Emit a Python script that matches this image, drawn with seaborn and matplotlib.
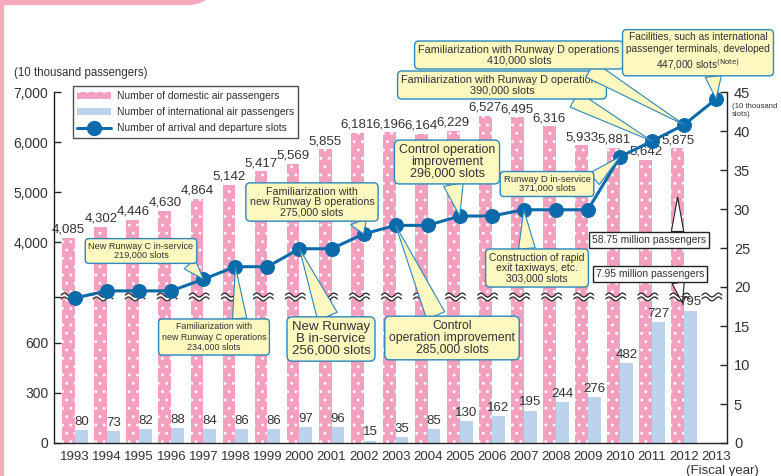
import numpy as np
import pandas as pd
import seaborn as sns
import matplotlib.pyplot as plt
import matplotlib.transforms as mtransforms
from matplotlib.patches import Patch, Polygon, Rectangle
from matplotlib.lines import Line2D

years = [str(y) for y in range(1993, 2014)]
domestic = [4085, 4302, 4446, 4630, 4864, 5142, 5417, 5569, 5855, 6181,
            6196, 6164, 6229, 6527, 6495, 6316, 5933, 5881, 5642, 5875]
international = [80, 73, 82, 88, 84, 86, 86, 97, 96, 15,
                 35, 85, 130, 162, 195, 244, 276, 482, 727, 795]
slots = [18.6, 19.5, 19.5, 19.5, 21.0, 22.6, 22.6, 24.9, 24.9, 26.8, 27.9,
         27.9, 29.1, 29.1, 29.9, 29.9, 29.9, 36.7, 38.7, 40.8, 44.1]

PINK = "#f3a0bf"
LBLUE = "#bcd3ee"
LINE = "#0a6aaa"
YELLOW = "#fdf7c0"
BOXEDGE = "#2b87bd"
TXT = "#333333"

sns.set_style("white")
plt.rcParams["font.family"] = ["Liberation Sans", "DejaVu Sans"]
plt.rcParams["hatch.linewidth"] = 0.9
plt.rcParams["hatch.color"] = "white"

df = pd.DataFrame({
    "Year": years[:-1] * 2,
    "Type": ["Domestic"] * 20 + ["International"] * 20,
    "Passengers": domestic + international,
})

fig = plt.figure(figsize=(7.81, 4.76), dpi=100)
ax = fig.add_axes([54 / 781, 33 / 476, 673 / 781, 351 / 476])

sns.barplot(data=df, x="Year", y="Passengers", hue="Type", order=years,
            palette={"Domestic": PINK, "International": LBLUE},
            saturation=1, width=0.8, legend=False, ax=ax)
for bar in ax.containers[0]:
    bar.set_edgecolor("white")
    bar.set_linewidth(0)
    bar.set_hatch("..")
for bar in ax.containers[1]:
    bar.set_edgecolor("none")
    bar.set_linewidth(0)

# broken axis: 0-870 and 2920-7000 (10 thousand passengers)
xp = [-1e6, 0, 870, 2920, 7000, 1e6]
fp = [-1e6 / 6, 0, 145, 147, 351, 147 + (1e6 - 2920) / 20]
ax.set_yscale("function", functions=(lambda v: np.interp(v, xp, fp),
                                     lambda u: np.interp(u, fp, xp)))
ax.set_ylim(0, 7000)
ax.set_yticks([0, 300, 600, 1895, 4000, 5000, 6000, 7000])
ax.set_yticklabels(["0", "300", "600", "", "4,000", "5,000", "6,000", "7,000"])
ax.tick_params(axis="y", direction="in", length=5, width=1, labelsize=10,
               labelcolor=TXT, left=True, pad=4)
ax.tick_params(axis="x", length=0, labelsize=9.5, labelcolor=TXT, pad=6)
ax.set_xlabel("")
ax.set_ylabel("")
for s in ["top", "right"]:
    ax.spines[s].set_visible(False)
for s in ["left", "bottom"]:
    ax.spines[s].set_color("#222222")
    ax.spines[s].set_linewidth(1)

for i, v in enumerate(domestic):
    ax.annotate(f"{v:,}", (i - 0.2, v), xytext=(0, 1.5), textcoords="offset points",
                ha="center", va="bottom", fontsize=9.5, color=TXT, zorder=11)
for i, v in enumerate(international):
    ax.annotate(f"{v:,}", (i + 0.2, v), xytext=(0, 1.5), textcoords="offset points",
                ha="center", va="bottom", fontsize=9.5, color=TXT, zorder=11)

# wavy break marks
trans = mtransforms.blended_transform_factory(ax.transData, ax.transAxes)
yb = 146 / 351
for i in range(len(years)):
    t = np.linspace(0, 1, 40)
    xs = i - 0.44 + 0.62 * t
    wave = 0.0055 * np.sin(2 * np.pi * 1.5 * t)
    y1 = yb + 0.0055 + wave
    y2 = yb - 0.0055 + wave
    ax.fill_between(xs, y2, y1, transform=trans, color="white", zorder=3, lw=0)
    ax.plot(xs, y1, transform=trans, color="#222222", lw=0.9, zorder=4)
    ax.plot(xs, y2, transform=trans, color="#222222", lw=0.9, zorder=4)

ax2 = ax.twinx()
sns.lineplot(x=np.arange(len(years)), y=slots, ax=ax2, color=LINE, lw=2.2,
             marker="o", markersize=10, markeredgecolor=LINE, zorder=5)
ax2.set_ylim(0, 45)
ax2.set_yticks(range(0, 46, 5))
ax2.tick_params(axis="y", direction="in", length=5, width=1, labelsize=10.5,
                labelcolor=TXT, right=True, pad=5)
for s in ["top", "left", "bottom"]:
    ax2.spines[s].set_visible(False)
ax2.spines["right"].set_color("#222222")
ax2.spines["right"].set_linewidth(1)
ax.set_xlim(-0.66, 20.34)


def callout(text, xy, box, fs, target=ax2, white=False, relpos=(0.5, 0.5), tw=1.6,
            ls=1.05):
    fc = "white" if white else YELLOW
    ec = "#222222" if white else BOXEDGE
    style = "square,pad=0.3" if white else "round,pad=0.35,rounding_size=0.4"
    target.annotate(text, xy=xy, xytext=(box[0], 476 - box[1]),
                    textcoords="figure pixels", ha="center", va="center",
                    fontsize=fs, color=TXT, linespacing=ls, zorder=10,
                    bbox=dict(boxstyle=style, fc=fc, ec=ec, lw=1),
                    arrowprops=dict(arrowstyle=f"wedge,tail_width={tw},shrink_factor=0.5",
                                    fc=fc, ec=ec, lw=0.8, relpos=relpos,
                                    shrinkA=0, shrinkB=0))


callout("New Runway C in-service\n219,000 slots", (4, slots[4]), (141, 251), 6.6,
        relpos=(0.9, 0.2))
callout("Familiarization with\nnew Runway C operations\n234,000 slots", (5, slots[5]),
        (214, 337), 6.4, relpos=(0.75, 0.9), ls=1.2)
callout("Familiarization with\nnew Runway B operations\n275,000 slots", (9, slots[9]),
        (312, 202), 7.7, relpos=(0.85, 0.1))
callout("New Runway\nB in-service\n256,000 slots", (7, slots[7]), (331, 339), 9.5,
        relpos=(0.5, 0.9), ls=0.95)
callout("Control operation\nimprovement\n296,000 slots", (12, slots[12]), (447, 162), 9,
        relpos=(0.55, 0.1), ls=0.95)
callout("Control\noperation improvement\n285,000 slots", (10, slots[10]), (452, 338), 8.8,
        relpos=(0.4, 0.9), ls=0.95)
callout("Runway D in-service\n371,000 slots", (17, slots[17]), (547, 184), 6.8,
        relpos=(1.0, 0.6))
callout("Construction of rapid\nexit taxiways, etc.\n303,000 slots", (14, slots[14]),
        (537, 268), 7.5, relpos=(0.4, 0.9))
callout("Familiarization with Runway D operations\n390,000 slots", (18, slots[18]),
        (502, 85), 7.8, relpos=(0.8, 0.1))
callout("Familiarization with Runway D operations\n410,000 slots", (19, slots[19]),
        (519, 55), 7.8, relpos=(0.8, 0.1))
callout("Facilities, such as international\npassenger terminals, developed\n"
        "447,000 slots$^{\\rm{(Note)}}$", (20, slots[20]), (698, 52), 7.3,
        relpos=(0.6, 0.1), ls=1.3)
callout("58.75 million passengers", (18.8, 4900), (649, 240), 7.4, target=ax, white=True,
        relpos=(0.75, 0.8), tw=1.2)
callout("7.95 million passengers", (18.95, 840), (650, 274), 7.4, target=ax, white=True,
        relpos=(0.75, 0.2), tw=1.2)

handles = [Patch(facecolor=PINK, edgecolor="white", linewidth=0, hatch=".."),
           Patch(facecolor=LBLUE, edgecolor="none"),
           Line2D([], [], color=LINE, lw=2.2, marker="o", markersize=10)]
labels = ["Number of domestic air passengers",
          "Number of international air passengers",
          "Number of arrival and departure slots"]
leg = ax2.legend(handles, labels, loc="upper left", bbox_to_anchor=(0.028, 1.016),
                 fontsize=7.4, frameon=True, fancybox=False, edgecolor="#222222",
                 borderaxespad=0, handlelength=3.3, labelspacing=0.6,
                 borderpad=0.45, handletextpad=0.5)
leg.get_frame().set_linewidth(1)
for t in leg.get_texts():
    t.set_color(TXT)

fig.text(14 / 781, 1 - 73 / 476, "(10 thousand passengers)", fontsize=8.3,
         color=TXT, va="center", ha="left")
fig.text(732 / 781, 1 - 110 / 476, "(10 thousand\nslots)", fontsize=5.6,
         color=TXT, va="center", ha="left", linespacing=1.2)
fig.text(722 / 781, 1 - 471 / 476, "(Fiscal year)", fontsize=9.5,
         color=TXT, va="center", ha="center")

# page frame decoration
fig.patches.append(Rectangle((0, 0), 3 / 781, 1, transform=fig.transFigure,
                             color="#f5a9bd", zorder=0))
fig.patches.append(Polygon([(0, 1), (205 / 781, 1), (198 / 781, 1 - 3 / 476),
                            (190 / 781, 1 - 4.5 / 476), (0, 1 - 4.5 / 476)],
                           closed=True, transform=fig.transFigure,
                           color="#f5a9bd", zorder=0))

fig.savefig("out.png", dpi=100)
